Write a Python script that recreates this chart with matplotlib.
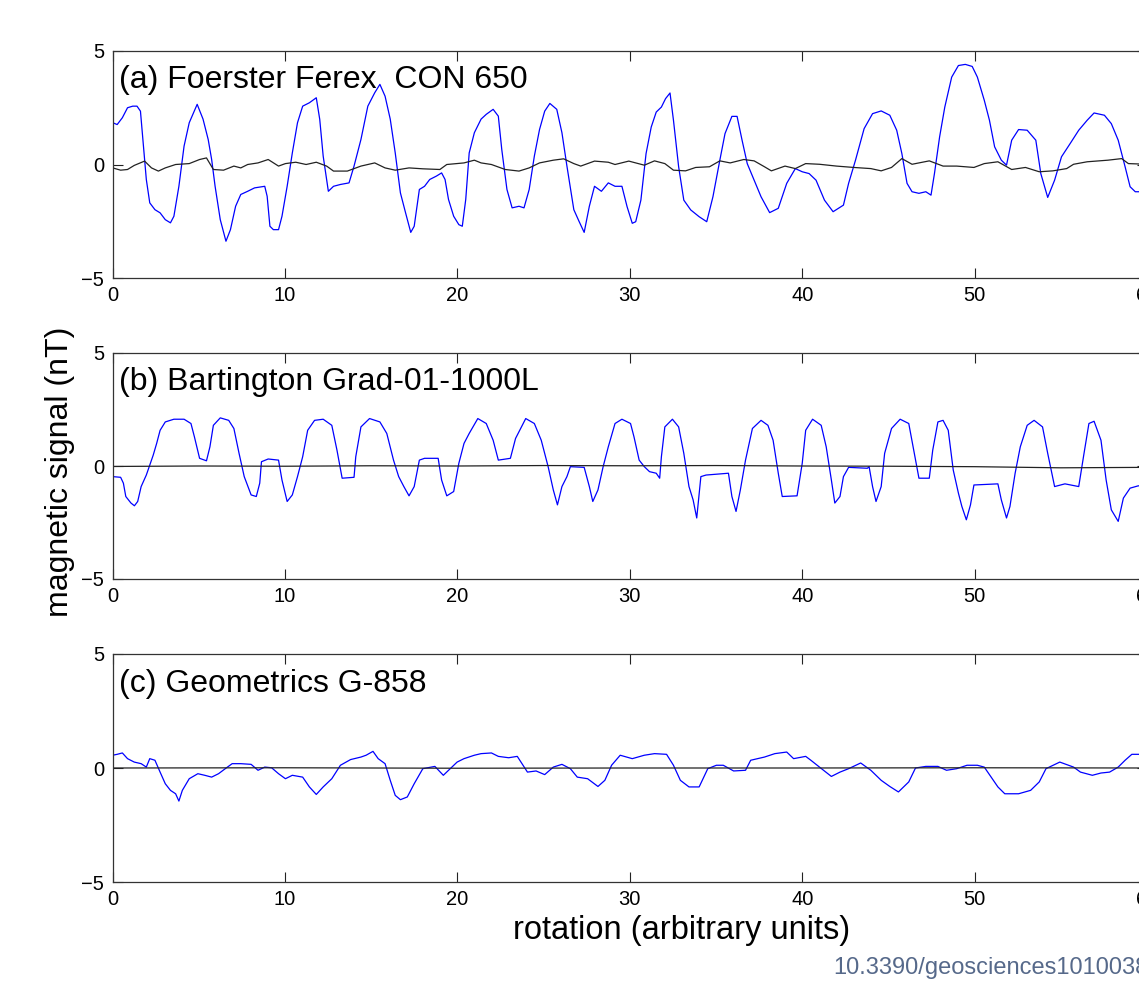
import numpy as np
import matplotlib
matplotlib.use('Agg')
import matplotlib.pyplot as plt

plt.rcParams['font.family'] = ['Liberation Sans', 'DejaVu Sans']

# Digitised traces (x in rotation units, y in nT)
# (a) Foerster Ferex CON 650
a_signal = [(0.00, 1.84), (0.26, 1.76), (0.56, 2.06), (0.86, 2.50), (1.16, 2.57), (1.41, 2.57), (1.61, 2.35),
            (1.75, 1.10), (1.95, -0.66), (2.15, -1.69), (2.45, -1.99), (2.75, -2.13), (3.05, -2.43), (3.35, -2.57),
            (3.55, -2.28), (3.84, -0.96), (4.14, 0.81), (4.44, 1.84), (4.90, 2.65), (5.24, 2.00), (5.54, 1.10),
            (5.74, 0.22), (5.94, -0.96), (6.24, -2.43), (6.57, -3.38), (6.83, -2.87), (7.13, -1.84), (7.43, -1.32),
            (7.83, -1.18), (8.23, -1.03), (8.82, -0.96), (8.96, -1.40), (9.12, -2.72), (9.32, -2.87), (9.62, -2.87),
            (9.82, -2.28), (10.12, -0.96), (10.42, 0.51), (10.72, 1.84), (11.02, 2.57), (11.41, 2.72), (11.81, 2.94),
            (12.01, 1.99), (12.21, 0.37), (12.51, -1.18), (12.81, -0.96), (13.21, -0.88), (13.71, -0.81),
            (14.00, -0.07), (14.40, 1.10), (14.80, 2.57), (15.20, 3.16), (15.50, 3.53), (15.80, 3.01), (16.10, 2.00),
            (16.39, 0.51), (16.69, -1.25), (16.99, -2.13), (17.29, -2.99), (17.49, -2.72), (17.79, -1.10),
            (18.09, -0.96), (18.39, -0.66), (18.78, -0.51), (19.08, -0.37), (19.28, -0.66), (19.48, -1.54),
            (19.78, -2.28), (20.08, -2.65), (20.28, -2.72), (20.48, -1.54), (20.68, 0.51), (20.98, 1.40),
            (21.37, 2.00), (21.67, 2.21), (22.07, 2.43), (22.37, 2.13), (22.57, 0.66), (22.87, -1.10), (23.17, -1.91),
            (23.57, -1.84), (23.86, -1.91), (24.16, -1.10), (24.46, 0.37), (24.76, 1.54), (25.06, 2.35), (25.36, 2.69),
            (25.76, 2.43), (26.06, 1.40), (26.35, -0.07), (26.75, -1.99), (27.05, -2.50), (27.35, -2.99),
            (27.65, -1.84), (27.95, -0.96), (28.35, -1.18), (28.75, -0.81), (29.14, -0.96), (29.54, -0.96),
            (29.84, -1.86), (30.14, -2.59), (30.34, -2.52), (30.64, -1.57), (30.94, 0.48), (31.24, 1.65),
            (31.53, 2.31), (31.83, 2.53), (32.07, 2.90), (32.33, 3.15), (32.53, 1.95), (32.83, -0.10), (33.13, -1.57),
            (33.53, -2.00), (34.02, -2.30), (34.46, -2.52), (34.82, -1.42), (35.22, 0.19), (35.52, 1.36),
            (35.92, 2.12), (36.22, 2.12), (36.51, 1.07), (36.81, 0.04), (37.21, -0.69), (37.61, -1.42),
            (38.11, -2.12), (38.61, -1.93), (39.10, -0.83), (39.60, -0.18), (40.00, -0.32), (40.40, -0.40),
            (40.80, -0.69), (41.29, -1.57), (41.79, -2.08), (42.39, -1.79), (42.69, -0.83), (43.09, 0.19),
            (43.59, 1.58), (44.08, 2.24), (44.58, 2.36), (45.08, 2.17), (45.48, 1.51), (45.78, 0.48), (46.08, -0.83),
            (46.37, -1.20), (46.77, -1.27), (47.17, -1.20), (47.47, -1.35), (47.67, -0.40), (47.97, 1.22),
            (48.27, 2.53), (48.67, 3.85), (49.06, 4.36), (49.46, 4.41), (49.86, 4.32), (50.16, 3.85), (50.56, 2.83),
            (50.86, 1.95), (51.16, 0.78), (51.55, 0.19), (51.85, -0.03), (52.15, 1.07), (52.55, 1.54), (53.05, 1.51),
            (53.55, 1.07), (53.84, -0.40), (54.24, -1.45), (54.64, -0.69), (55.04, 0.34), (55.54, 0.92),
            (56.04, 1.51), (56.53, 1.95), (56.93, 2.27), (57.53, 2.17), (57.93, 1.80), (58.33, 1.07), (58.73, -0.10),
            (59.02, -0.98), (59.32, -1.20), (60.00, -1.20)]
a_noise = [(0.00, -0.15), (0.46, -0.25), (0.86, -0.22), (1.25, -0.04), (1.85, 0.15), (2.25, -0.15), (2.65, -0.29),
           (3.05, -0.15), (3.65, 0.00), (4.44, 0.04), (5.04, 0.22), (5.44, 0.29), (5.84, -0.22), (6.43, -0.25),
           (7.03, -0.07), (7.43, -0.15), (7.83, 0.00), (8.43, 0.07), (9.02, 0.22), (9.62, -0.07), (10.02, 0.04),
           (10.62, 0.10), (11.22, 0.00), (11.81, 0.10), (12.41, -0.07), (12.81, -0.29), (13.61, -0.29),
           (14.40, -0.07), (15.20, 0.07), (15.80, -0.15), (16.39, -0.25), (17.19, -0.15), (17.99, -0.19),
           (18.98, -0.22), (19.38, 0.00), (20.38, 0.07), (20.98, 0.19), (21.37, 0.07), (21.97, 0.00), (22.77, -0.22),
           (23.57, -0.29), (24.16, -0.15), (24.76, 0.07), (25.56, 0.19), (26.16, 0.25), (26.75, 0.04), (27.15, -0.07),
           (27.95, 0.15), (28.75, 0.10), (29.14, 0.00), (29.94, 0.15), (30.84, -0.03), (31.43, 0.16), (32.03, 0.04),
           (32.53, -0.25), (33.23, -0.28), (33.82, -0.13), (34.62, -0.10), (35.22, 0.16), (35.82, 0.07),
           (36.61, 0.22), (37.21, 0.16), (37.81, -0.10), (38.21, -0.28), (39.00, -0.07), (39.60, -0.18),
           (40.20, 0.04), (41.00, 0.01), (41.99, -0.07), (42.99, -0.13), (43.98, -0.18), (44.58, -0.28),
           (45.18, -0.13), (45.78, 0.26), (46.37, 0.01), (47.37, 0.16), (48.17, -0.07), (48.96, -0.07),
           (49.96, -0.13), (50.56, 0.04), (51.35, 0.12), (52.15, -0.22), (52.95, -0.13), (53.75, -0.32),
           (54.54, -0.28), (55.34, -0.18), (55.74, 0.01), (56.53, 0.12), (57.73, 0.19), (58.53, 0.26), (58.92, 0.04),
           (60.00, 0.01)]

# (b) Bartington Grad-01-1000L
b_signal = [(0.00, -0.47), (0.46, -0.50), (0.62, -0.76), (0.76, -1.35), (1.06, -1.64), (1.26, -1.76), (1.45, -1.57),
            (1.65, -0.91), (1.95, -0.40), (2.15, 0.04), (2.35, 0.48), (2.55, 1.00), (2.75, 1.58), (3.05, 1.95),
            (3.55, 2.07), (4.14, 2.07), (4.54, 1.88), (4.74, 1.29), (5.04, 0.34), (5.44, 0.23), (5.64, 0.85),
            (5.84, 1.80), (6.24, 2.13), (6.73, 2.02), (7.03, 1.66), (7.33, 0.56), (7.63, -0.47), (8.03, -1.28),
            (8.33, -1.35), (8.53, -0.76), (8.63, 0.19), (9.02, 0.31), (9.62, 0.26), (9.82, -0.62), (10.12, -1.57),
            (10.42, -1.28), (10.72, -0.47), (11.02, 0.41), (11.31, 1.58), (11.71, 2.02), (12.21, 2.07), (12.71, 1.80),
            (13.01, 0.70), (13.31, -0.54), (14.00, -0.50), (14.10, 0.41), (14.40, 1.73), (14.90, 2.10), (15.50, 1.95),
            (15.90, 1.44), (16.29, 0.26), (16.59, -0.47), (16.89, -0.91), (17.19, -1.32), (17.49, -0.91),
            (17.79, 0.26), (18.09, 0.34), (18.88, 0.34), (19.08, -0.62), (19.38, -1.32), (19.78, -1.13),
            (20.08, 0.12), (20.38, 1.00), (20.68, 1.44), (21.18, 2.10), (21.67, 1.88), (22.07, 1.14), (22.37, 0.26),
            (23.07, 0.34), (23.37, 1.22), (23.96, 2.10), (24.46, 1.88), (24.86, 1.14), (25.26, -0.03), (25.56, -1.06),
            (25.80, -1.72), (26.06, -0.91), (26.35, -0.47), (26.55, -0.03), (27.35, -0.06), (27.65, -0.91),
            (27.85, -1.57), (28.15, -1.06), (28.45, -0.03), (28.75, 0.85), (29.14, 1.88), (29.54, 2.07),
            (30.04, 1.88), (30.24, 1.29), (30.54, 0.26), (30.84, -0.03), (31.14, -0.25), (31.53, -0.32),
            (31.73, -0.54), (31.83, 0.41), (32.03, 1.73), (32.47, 2.07), (32.83, 1.73), (33.13, 0.56), (33.43, -0.91),
            (33.67, -1.50), (33.88, -2.30), (34.12, -0.47), (34.42, -0.40), (35.72, -0.32), (35.92, -1.35),
            (36.16, -2.01), (36.41, -1.06), (36.71, 0.26), (37.11, 1.66), (37.61, 2.02), (38.01, 1.80), (38.31, 1.14),
            (38.61, -0.32), (38.84, -1.35), (39.70, -1.32), (40.00, 0.12), (40.20, 1.58), (40.60, 2.07),
            (41.10, 1.80), (41.39, 0.85), (41.69, -0.62), (41.89, -1.64), (42.19, -1.35), (42.39, -0.47),
            (42.69, -0.06), (43.78, -0.10), (43.88, -0.03), (44.08, -0.91), (44.28, -1.57), (44.58, -0.91),
            (44.78, 0.56), (45.18, 1.66), (45.68, 2.07), (46.18, 1.88), (46.47, 0.70), (46.77, -0.54), (47.37, -0.54),
            (47.57, 0.70), (47.87, 1.95), (48.17, 2.02), (48.47, 1.58), (48.76, -0.18), (49.06, -1.20),
            (49.26, -1.79), (49.52, -2.38), (49.76, -1.72), (49.96, -0.84), (51.35, -0.79), (51.55, -1.50),
            (51.85, -2.30), (52.05, -1.79), (52.35, -0.32), (52.65, 0.85), (53.05, 1.80), (53.45, 2.02),
            (53.94, 1.73), (54.24, 0.56), (54.64, -0.91), (55.24, -0.79), (56.04, -0.91), (56.33, 0.48),
            (56.63, 1.88), (56.93, 1.98), (57.33, 1.14), (57.63, -0.62), (57.93, -1.94), (58.33, -2.45),
            (58.63, -1.42), (59.02, -0.98), (59.48, -0.88), (60.00, -0.85)]
b_noise = [(0, -0.02), (5, 0.0), (10, -0.01), (15, 0.01), (20, 0.0), (25, 0.02), (30, 0.01), (35, 0.02),
           (40, 0.0), (45, -0.01), (50, -0.03), (55, -0.08), (60, -0.06)]

# (c) Geometrics G-858
c_signal = [(0.00, 0.56), (0.26, 0.60), (0.56, 0.66), (0.86, 0.41), (1.25, 0.26), (1.65, 0.19), (1.95, 0.04),
            (2.15, 0.41), (2.45, 0.34), (2.75, -0.18), (3.05, -0.69), (3.35, -0.98), (3.65, -1.13), (3.84, -1.45),
            (4.04, -0.98), (4.44, -0.47), (4.94, -0.25), (5.34, -0.32), (5.74, -0.40), (6.14, -0.25), (6.53, -0.03),
            (6.93, 0.19), (7.43, 0.19), (8.03, 0.16), (8.43, -0.10), (8.82, 0.04), (9.22, 0.01), (9.62, -0.25),
            (10.02, -0.47), (10.42, -0.32), (11.02, -0.40), (11.41, -0.83), (11.81, -1.16), (12.21, -0.83),
            (12.71, -0.47), (13.21, 0.12), (13.80, 0.37), (14.40, 0.48), (14.70, 0.56), (15.10, 0.73), (15.40, 0.41),
            (15.80, 0.19), (16.10, -0.54), (16.39, -1.20), (16.69, -1.39), (17.09, -1.27), (17.49, -0.69),
            (17.99, -0.03), (18.69, 0.07), (19.18, -0.32), (19.58, -0.03), (19.98, 0.26), (20.38, 0.41),
            (20.98, 0.56), (21.37, 0.63), (21.97, 0.66), (22.37, 0.51), (22.97, 0.45), (23.47, 0.51), (24.06, -0.18),
            (24.56, -0.13), (25.06, -0.29), (25.56, 0.04), (26.06, 0.16), (26.55, -0.03), (26.95, -0.40),
            (27.55, -0.47), (28.15, -0.81), (28.55, -0.54), (28.94, 0.12), (29.44, 0.56), (30.14, 0.41),
            (30.84, 0.56), (31.43, 0.63), (32.13, 0.60), (32.53, 0.12), (32.93, -0.54), (33.43, -0.83),
            (34.02, -0.83), (34.52, -0.03), (35.02, 0.12), (35.42, 0.12), (36.02, -0.13), (36.71, -0.10),
            (37.01, 0.34), (37.81, 0.48), (38.41, 0.63), (39.10, 0.70), (39.50, 0.41), (40.20, 0.51), (40.50, 0.34),
            (41.00, 0.04), (41.69, -0.37), (42.19, -0.18), (42.69, -0.03), (43.39, 0.22), (43.98, -0.10),
            (44.58, -0.54), (45.08, -0.81), (45.58, -1.05), (46.18, -0.61), (46.57, 0.00), (47.17, 0.07),
            (47.87, 0.07), (48.37, -0.10), (48.96, -0.03), (49.56, 0.12), (50.16, 0.12), (50.56, 0.04),
            (50.96, -0.40), (51.35, -0.83), (51.75, -1.13), (52.55, -1.13), (53.25, -0.98), (53.75, -0.61),
            (54.14, -0.03), (54.94, 0.26), (55.74, 0.04), (56.14, -0.18), (56.83, -0.32), (57.33, -0.22),
            (57.83, -0.18), (58.33, 0.04), (58.73, 0.34), (59.12, 0.60), (59.48, 0.60), (60.00, 0.60)]
c_noise = [(0, 0.0), (10, 0.01), (20, -0.01), (30, 0.0), (40, 0.0), (50, 0.01), (60, 0.0)]

titles = ['(a) Foerster Ferex  CON 650', '(b) Bartington Grad-01-1000L', '(c) Geometrics G-858']
signals = [a_signal, b_signal, c_signal]
noises = [a_noise, b_noise, c_noise]
x_ticks = [0, 10, 20, 30, 40, 50, 60]
y_ticks = [-5, 0, 5]

W, H = 1139, 983
fig = plt.figure(figsize=(W / 100, H / 100), dpi=100)

# axes boxes in pixels: left, top, right, bottom (right edge runs past the crop)
boxes = [(112.7, 51, 1147, 278), (112.7, 353, 1147, 579), (112.7, 654, 1147, 882)]

for box, title, sig, noi in zip(boxes, titles, signals, noises):
    l, t, r, b = box
    ax = fig.add_axes([l / W, 1 - b / H, (r - l) / W, (b - t) / H])
    sx, sy = np.array(sig).T
    nx, ny = np.array(noi).T
    ax.plot(sx, sy, color='#0000ff', lw=0.9)
    ax.plot(nx, ny, color='#222222', lw=0.9)
    ax.set_xlim(0, 60)
    ax.set_ylim(-5, 5)
    ax.set_xticks(x_ticks)
    ax.set_yticks(y_ticks)
    ax.tick_params(direction='in', length=7, width=0.8, top=True, right=True,
                   labelsize=14.5, pad=6, colors='#222222', labelcolor='black')
    for s in ax.spines.values():
        s.set_linewidth(0.9)
        s.set_color('#333333')
    ax.text(0.006, 0.835, title, transform=ax.transAxes, fontsize=23, va='baseline', ha='left')

fig.text(60 / W, 1 - 472 / H, 'magnetic signal (nT)', rotation=90, ha='center', va='center', fontsize=23)
fig.text(682 / W, 1 - 930 / H, 'rotation (arbitrary units)', ha='center', va='center', fontsize=23.5)
fig.text(1.008, 1 - 968 / H, '10.3390/geosciences1010038', ha='right', va='center', fontsize=17, color='#56698a')

fig.savefig('out.png', dpi=100)
